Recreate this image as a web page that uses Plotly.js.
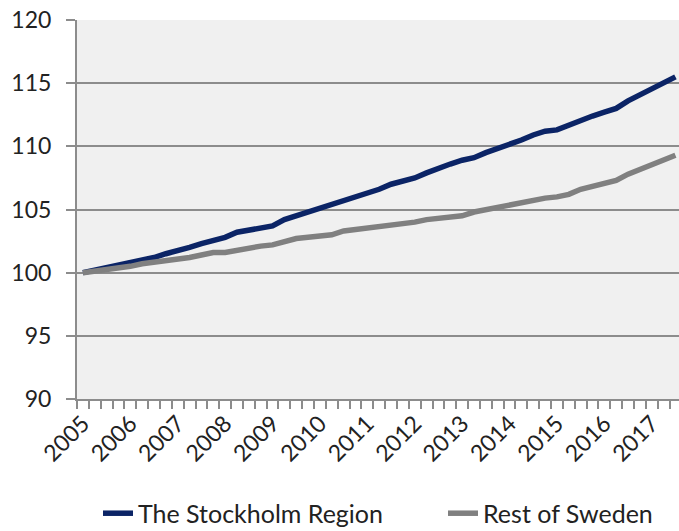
<!DOCTYPE html>
<html>
<head>
<meta charset="utf-8">
<script src="https://cdn.plot.ly/plotly-3.0.1.min.js"></script>
<style>html,body{margin:0;padding:0;background:#fff;}#chart{width:679px;height:531px;}</style>
</head>
<body>
<div id="chart"></div>
<script>
// Quarterly index, 2005 Q1 = 100
var years = [2005,2006,2007,2008,2009,2010,2011,2012,2013,2014,2015,2016,2017];
var quarters = [];
years.forEach(function(y){ ['Q1','Q2','Q3','Q4'].forEach(function(q){ quarters.push(y + ' ' + q); }); });
quarters = quarters.slice(0, 51); // data through 2017 Q3

var stockholm = [
  100.0,100.2,100.4,100.5,100.8,101.0,101.2,101.5,101.7,102.0,
  102.3,102.5,102.8,103.2,103.4,103.6,103.7,104.2,104.5,104.8,
  105.0,105.3,105.7,106.0,106.3,106.6,107.0,107.2,107.5,107.9,
  108.3,108.6,108.9,109.1,109.5,109.8,110.1,110.5,110.9,111.2,
  111.3,111.7,112.1,112.4,112.7,113.0,113.6,114.1,114.5,115.0,
  115.5
];
var restOfSweden = [
  100.0,100.1,100.2,100.3,100.5,100.7,100.8,100.9,101.1,101.2,
  101.4,101.6,101.6,101.8,102.0,102.1,102.2,102.5,102.7,102.8,
  102.9,103.0,103.3,103.4,103.5,103.6,103.7,103.8,104.0,104.2,
  104.3,104.4,104.5,104.8,105.0,105.1,105.3,105.5,105.7,105.9,
  106.0,106.2,106.6,106.8,107.0,107.3,107.8,108.2,108.6,108.9,
  109.3
];
var seriesNames = ['The Stockholm Region', 'Rest of Sweden'];

var idx = quarters.map(function(_, i){ return i; });
var yearTickVals = [], yearTickText = [];
quarters.forEach(function(q, i){ if (q.slice(-2) === 'Q1') { yearTickVals.push(i); yearTickText.push(q.slice(0,4)); } });

var font = 'Lato, "Open Sans", sans-serif';

var traces = [
  {x: idx, y: stockholm, text: quarters, type: 'scatter', mode: 'lines', name: seriesNames[0],
   legendwidth: 300,
   line: {color: '#0b2466', width: 5.5}},
  {x: idx, y: restOfSweden, text: quarters, type: 'scatter', mode: 'lines', name: seriesNames[1],
   line: {color: '#808080', width: 5.5}}
];

var layout = {
  width: 679, height: 531,
  margin: {l: 77, r: 0, t: 20, b: 132, autoexpand: false},
  paper_bgcolor: '#ffffff',
  plot_bgcolor: '#f0f0f0',
  showlegend: true,
  hovermode: false,
  xaxis: {
    type: 'linear',
    range: [-0.5, 50.3],
    automargin: false,
    tickmode: 'array', tickvals: yearTickVals, ticktext: yearTickText,
    tickangle: -45,
    ticks: '',
    showgrid: false, zeroline: false,
    showline: true, linecolor: '#8c8c8c', linewidth: 2,
    tickfont: {family: font, size: 23, color: '#222222'},
    minor: {tick0: -0.5, dtick: 1, ticks: 'outside', ticklen: 8, tickwidth: 2, tickcolor: '#8c8c8c', showgrid: false}
  },
  yaxis: {
    range: [90, 120],
    automargin: false,
    tickmode: 'linear', tick0: 90, dtick: 5,
    ticks: 'outside', ticklen: 9, tickwidth: 2, tickcolor: '#8c8c8c',
    showgrid: true, gridcolor: '#8c8c8c', gridwidth: 2,
    zeroline: false,
    showline: true, linecolor: '#8c8c8c', linewidth: 2,
    ticklabelstandoff: 10,
    tickfont: {family: font, size: 23, color: '#222222'}
  },
  legend: {
    orientation: 'h',
    x: 0.5, xanchor: 'center',
    y: -0.302, yanchor: 'middle',
    font: {family: font, size: 25, color: '#222222'},
    bgcolor: 'rgba(0,0,0,0)'
  }
};

Plotly.newPlot('chart', traces, layout, {displayModeBar: false, staticPlot: true});
</script>
</body>
</html>
